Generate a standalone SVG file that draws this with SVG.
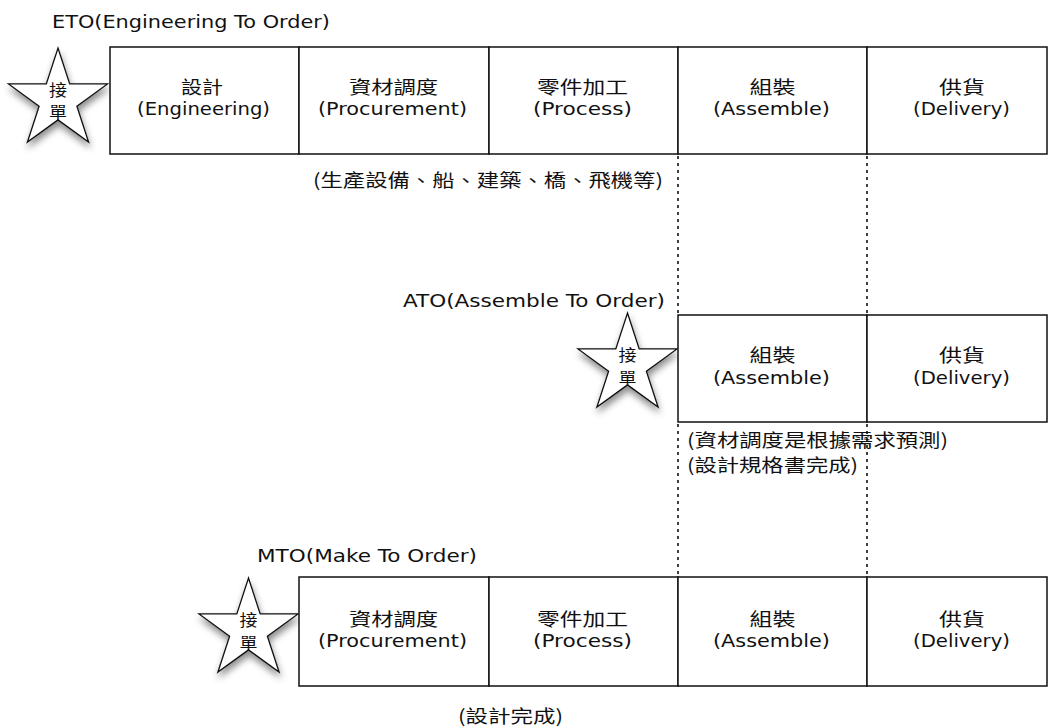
<svg xmlns="http://www.w3.org/2000/svg" width="1050" height="728" viewBox="0 0 1050 728">
  <style>
    .cell { fill: #ffffff; stroke: #111111; stroke-width: 1.5; }
    .star { fill: #ffffff; stroke: #111111; stroke-width: 1.3; stroke-linejoin: miter; }
    .lat { font-family: 'DejaVu Sans', 'Liberation Sans', sans-serif; font-size: 18px; fill: #111111; }
    .cjk { font-family: 'Noto Sans CJK TC', 'Noto Sans CJK JP', sans-serif; font-size: 18px; fill: #111111; }
    .sc { font-family: 'Noto Sans CJK TC', 'Noto Sans CJK JP', sans-serif; font-size: 16px; fill: #111111; text-anchor: middle; }
    .mid { text-anchor: middle; }
    .dot { stroke: #111111; stroke-width: 1.6; stroke-dasharray: 3 4; fill: none; }
  </style>
  <defs>
    <filter id="shadow" x="-30%" y="-30%" width="160%" height="170%">
      <feDropShadow dx="1" dy="5" stdDeviation="3.5" flood-color="#000000" flood-opacity="0.45"/>
    </filter>
    <polygon id="starShape" points="0,-52 11.67,-16.07 49.46,-16.07 18.89,6.14 30.57,42.07 0,19.86 -30.57,42.07 -18.89,6.14 -49.46,-16.07 -11.67,-16.07"/>
  </defs>
  <rect width="1050" height="728" fill="#ffffff"/>

  <!-- connectors (dotted guide lines) -->
  <g id="connectors">
    <line class="dot" x1="678" y1="156" x2="678" y2="315"/>
    <line class="dot" x1="678" y1="424" x2="678" y2="577"/>
    <line class="dot" x1="867" y1="156" x2="867" y2="315"/>
    <line class="dot" x1="867" y1="424" x2="867" y2="577"/>
  </g>

  <!-- ETO -->
  <g id="eto-title">
    <text class="lat" x="52" y="28" textLength="278" lengthAdjust="spacingAndGlyphs">ETO(Engineering To Order)</text>
  </g>
  <g id="eto-star">
    <use href="#starShape" class="star" transform="translate(58,100)" filter="url(#shadow)"/>
    <text class="sc" x="58" y="96" textLength="18" lengthAdjust="spacingAndGlyphs">接</text>
    <text class="sc" x="58" y="118" textLength="18" lengthAdjust="spacingAndGlyphs">單</text>
  </g>
  <g id="eto-engineering">
    <rect class="cell" x="110" y="47" width="189" height="107"/>
    <text class="cjk mid" x="202" y="94" textLength="42" lengthAdjust="spacingAndGlyphs">設計</text>
    <text class="lat mid" x="203.5" y="115" textLength="133" lengthAdjust="spacingAndGlyphs">(Engineering)</text>
  </g>
  <g id="eto-procurement">
    <rect class="cell" x="299" y="47" width="190" height="107"/>
    <text class="cjk mid" x="393.5" y="94" textLength="89" lengthAdjust="spacingAndGlyphs">資材調度</text>
    <text class="lat mid" x="392.5" y="115" textLength="149" lengthAdjust="spacingAndGlyphs">(Procurement)</text>
  </g>
  <g id="eto-process">
    <rect class="cell" x="489" y="47" width="189" height="107"/>
    <text class="cjk mid" x="582.5" y="94" textLength="91" lengthAdjust="spacingAndGlyphs">零件加工</text>
    <text class="lat mid" x="582.5" y="115" textLength="99" lengthAdjust="spacingAndGlyphs">(Process)</text>
  </g>
  <g id="eto-assemble">
    <rect class="cell" x="678" y="47" width="189" height="107"/>
    <text class="cjk mid" x="772.5" y="94" textLength="46" lengthAdjust="spacingAndGlyphs">組裝</text>
    <text class="lat mid" x="771.5" y="115" textLength="117" lengthAdjust="spacingAndGlyphs">(Assemble)</text>
  </g>
  <g id="eto-delivery">
    <rect class="cell" x="867" y="47" width="180" height="107"/>
    <text class="cjk mid" x="962" y="94" textLength="46" lengthAdjust="spacingAndGlyphs">供貨</text>
    <text class="lat mid" x="961.5" y="115" textLength="97" lengthAdjust="spacingAndGlyphs">(Delivery)</text>
  </g>
  <g id="eto-note">
    <text class="cjk" x="313" y="187" textLength="350" lengthAdjust="spacingAndGlyphs">(生產設備、船、建築、橋、飛機等)</text>
  </g>

  <!-- ATO -->
  <g id="ato-title">
    <text class="lat" x="403" y="307" textLength="262" lengthAdjust="spacingAndGlyphs">ATO(Assemble To Order)</text>
  </g>
  <g id="ato-star">
    <use href="#starShape" class="star" transform="translate(627.5,365)" filter="url(#shadow)"/>
    <text class="sc" x="627.5" y="361" textLength="18" lengthAdjust="spacingAndGlyphs">接</text>
    <text class="sc" x="627.5" y="384" textLength="18" lengthAdjust="spacingAndGlyphs">單</text>
  </g>
  <g id="ato-assemble">
    <rect class="cell" x="678" y="315" width="189" height="107"/>
    <text class="cjk mid" x="772.5" y="362" textLength="46" lengthAdjust="spacingAndGlyphs">組裝</text>
    <text class="lat mid" x="771.5" y="384" textLength="117" lengthAdjust="spacingAndGlyphs">(Assemble)</text>
  </g>
  <g id="ato-delivery">
    <rect class="cell" x="867" y="315" width="180" height="107"/>
    <text class="cjk mid" x="962" y="362" textLength="46" lengthAdjust="spacingAndGlyphs">供貨</text>
    <text class="lat mid" x="961.5" y="384" textLength="97" lengthAdjust="spacingAndGlyphs">(Delivery)</text>
  </g>
  <g id="ato-note">
    <text class="cjk" x="687" y="447" textLength="261" lengthAdjust="spacingAndGlyphs">(資材調度是根據需求預測)</text>
    <text class="cjk" x="687" y="472" textLength="171" lengthAdjust="spacingAndGlyphs">(設計規格書完成)</text>
  </g>

  <!-- MTO -->
  <g id="mto-title">
    <text class="lat" x="257" y="562" textLength="220" lengthAdjust="spacingAndGlyphs">MTO(Make To Order)</text>
  </g>
  <g id="mto-star">
    <use href="#starShape" class="star" transform="translate(248.5,630)" filter="url(#shadow)"/>
    <text class="sc" x="248.5" y="626" textLength="18" lengthAdjust="spacingAndGlyphs">接</text>
    <text class="sc" x="248.5" y="649" textLength="18" lengthAdjust="spacingAndGlyphs">單</text>
  </g>
  <g id="mto-procurement">
    <rect class="cell" x="299" y="577" width="190" height="109"/>
    <text class="cjk mid" x="393.5" y="626" textLength="89" lengthAdjust="spacingAndGlyphs">資材調度</text>
    <text class="lat mid" x="392.5" y="647" textLength="149" lengthAdjust="spacingAndGlyphs">(Procurement)</text>
  </g>
  <g id="mto-process">
    <rect class="cell" x="489" y="577" width="189" height="109"/>
    <text class="cjk mid" x="582.5" y="626" textLength="91" lengthAdjust="spacingAndGlyphs">零件加工</text>
    <text class="lat mid" x="582.5" y="647" textLength="99" lengthAdjust="spacingAndGlyphs">(Process)</text>
  </g>
  <g id="mto-assemble">
    <rect class="cell" x="678" y="577" width="189" height="109"/>
    <text class="cjk mid" x="772.5" y="626" textLength="46" lengthAdjust="spacingAndGlyphs">組裝</text>
    <text class="lat mid" x="771.5" y="647" textLength="117" lengthAdjust="spacingAndGlyphs">(Assemble)</text>
  </g>
  <g id="mto-delivery">
    <rect class="cell" x="867" y="577" width="180" height="109"/>
    <text class="cjk mid" x="962" y="626" textLength="46" lengthAdjust="spacingAndGlyphs">供貨</text>
    <text class="lat mid" x="961.5" y="647" textLength="97" lengthAdjust="spacingAndGlyphs">(Delivery)</text>
  </g>
  <g id="mto-note">
    <text class="cjk" x="458" y="723" textLength="105" lengthAdjust="spacingAndGlyphs">(設計完成)</text>
  </g>
</svg>
